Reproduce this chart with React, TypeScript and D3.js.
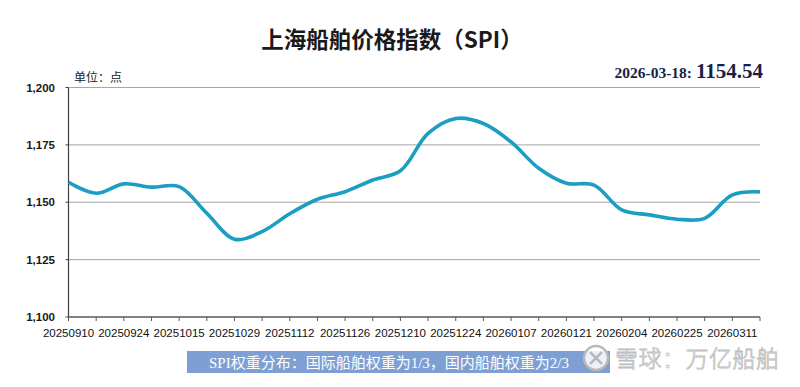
import * as d3 from "d3";

// weekly SPI readings (Excel category axis, points sit on tick marks)
const dates = [
  "20250910", "20250917", "20250924", "20251009", "20251015", "20251022",
  "20251029", "20251105", "20251112", "20251119", "20251126", "20251203",
  "20251210", "20251217", "20251224", "20251231", "20260107", "20260114",
  "20260121", "20260128", "20260204", "20260211", "20260225", "20260304",
  "20260311", "20260318",
];
const spi = [
  1158.7, 1153.9, 1158.0, 1156.6, 1156.8, 1145.2,
  1133.9, 1137.2, 1145.0, 1151.3, 1154.6, 1159.7,
  1163.7, 1180.0, 1186.5, 1184.3, 1176.3, 1164.8,
  1158.3, 1157.5, 1146.7, 1144.5, 1142.6, 1143.0,
  1153.2, 1154.54,
];
const yTicks = [1100, 1125, 1150, 1175, 1200];
const labelEvery = 2;

const title = "上海船舶价格指数（SPI）";
const unitText = "单位：点";
const latestDate = "2026-03-18: ";
const latestValue = "1154.54";
const bannerText = "SPI权重分布：国际船舶权重为1/3，国内船舶权重为2/3";
const watermark = "雪球：万亿船舶";

const W = 800;
const H = 387;
const margin = { top: 87.5, right: 40, bottom: 70, left: 68.5 };

export default function App() {
  const x = d3
    .scalePoint<string>()
    .domain(dates)
    .range([margin.left, W - margin.right]);
  const y = d3
    .scaleLinear()
    .domain([1100, 1200])
    .range([H - margin.bottom, margin.top]);

  const line = d3
    .line<number>()
    .x((_, i) => x(dates[i]) as number)
    .y((d) => y(d))
    .curve(d3.curveCatmullRom.alpha(0.5));

  const fmt = d3.format(",");
  const axisY = y(1100);
  const sans = "'Liberation Sans', Arial, 'Noto Sans CJK SC', sans-serif";
  const serif = "'Liberation Serif', 'Times New Roman', 'Noto Sans CJK SC', serif";

  return (
    <svg
      width={W}
      height={H}
      viewBox={`0 0 ${W} ${H}`}
      style={{ position: "absolute", left: 0, top: 0, background: "#fff" }}
    >
      <text
        x={392}
        y={48}
        textAnchor="middle"
        fontFamily="'Noto Sans CJK SC', sans-serif"
        fontWeight="bold"
        fontSize={22.5}
        fill="#1a1a1a"
      >
        {title}
      </text>

      <text x={74} y={82} fontFamily={sans} fontSize={12} fill="#222">
        {unitText}
      </text>

      <text x={763} y={78} textAnchor="end" fontFamily={serif} fontWeight="bold" fill="#1b1f48">
        <tspan fontSize={15.5}>{latestDate}</tspan>
        <tspan fontSize={21}>{latestValue}</tspan>
      </text>

      {/* gridlines */}
      {yTicks
        .filter((t) => t !== 1100)
        .map((t) => (
          <line
            key={t}
            x1={margin.left}
            x2={W - margin.right}
            y1={y(t)}
            y2={y(t)}
            stroke="#a6a6a6"
            strokeWidth={1}
          />
        ))}

      {/* y axis */}
      <line x1={margin.left} x2={margin.left} y1={y(1200)} y2={axisY} stroke="#404040" strokeWidth={1.2} />
      {yTicks.map((t) => (
        <g key={t}>
          <line x1={margin.left - 3} x2={margin.left} y1={y(t)} y2={y(t)} stroke="#404040" />
          <text
            x={55}
            y={y(t) + 4}
            textAnchor="end"
            fontFamily={sans}
            fontWeight="bold"
            fontSize={11.5}
            fill="#1a1a1a"
          >
            {fmt(t)}
          </text>
        </g>
      ))}

      {/* x axis */}
      <line x1={margin.left} x2={W - margin.right} y1={axisY} y2={axisY} stroke="#595959" strokeWidth={1.5} />
      {dates.map((d, i) => (
        <g key={d}>
          <line x1={x(d)} x2={x(d)} y1={axisY} y2={axisY + 4} stroke="#595959" />
          {i % labelEvery === 0 && (
            <text
              x={x(d)}
              y={axisY + 20}
              textAnchor="middle"
              fontFamily={sans}
              fontSize={11.5}
              fill="#111"
            >
              {d}
            </text>
          )}
        </g>
      ))}

      <path d={line(spi) ?? ""} fill="none" stroke="#1b9ec1" strokeWidth={3.6} strokeLinejoin="round" />

      {/* banner */}
      <defs>
        <clipPath id="bannerClip">
          <rect x={187} y={351} width={423} height={22} />
        </clipPath>
      </defs>
      <rect x={187} y={351} width={423} height={22} fill="#7d9fd3" />
      <text
        x={209}
        y={368}
        clipPath="url(#bannerClip)"
        fontFamily={serif}
        fontSize={15}
        fill="#ffffff"
      >
        {bannerText}
      </text>

      {/* watermark */}
      <g>
        <circle cx={596} cy={358} r={12} fill="#fff" fillOpacity={0.85} stroke="#b8b8b8" strokeWidth={2.5} />
        <path d="M590,352 L596,358 L590,364 M602,352 L596,358 L602,364" fill="none" stroke="#b8b8b8" strokeWidth={2.5} />
        <text
          x={615}
          y={367}
          fontFamily="'Noto Sans CJK SC', sans-serif"
          fontSize={23}
          fontWeight={300}
          fill="#ffffff"
          stroke="#bdbdbd"
          strokeWidth={0.8}
          letterSpacing={0.5}
        >
          {watermark}
        </text>
      </g>
    </svg>
  );
}
